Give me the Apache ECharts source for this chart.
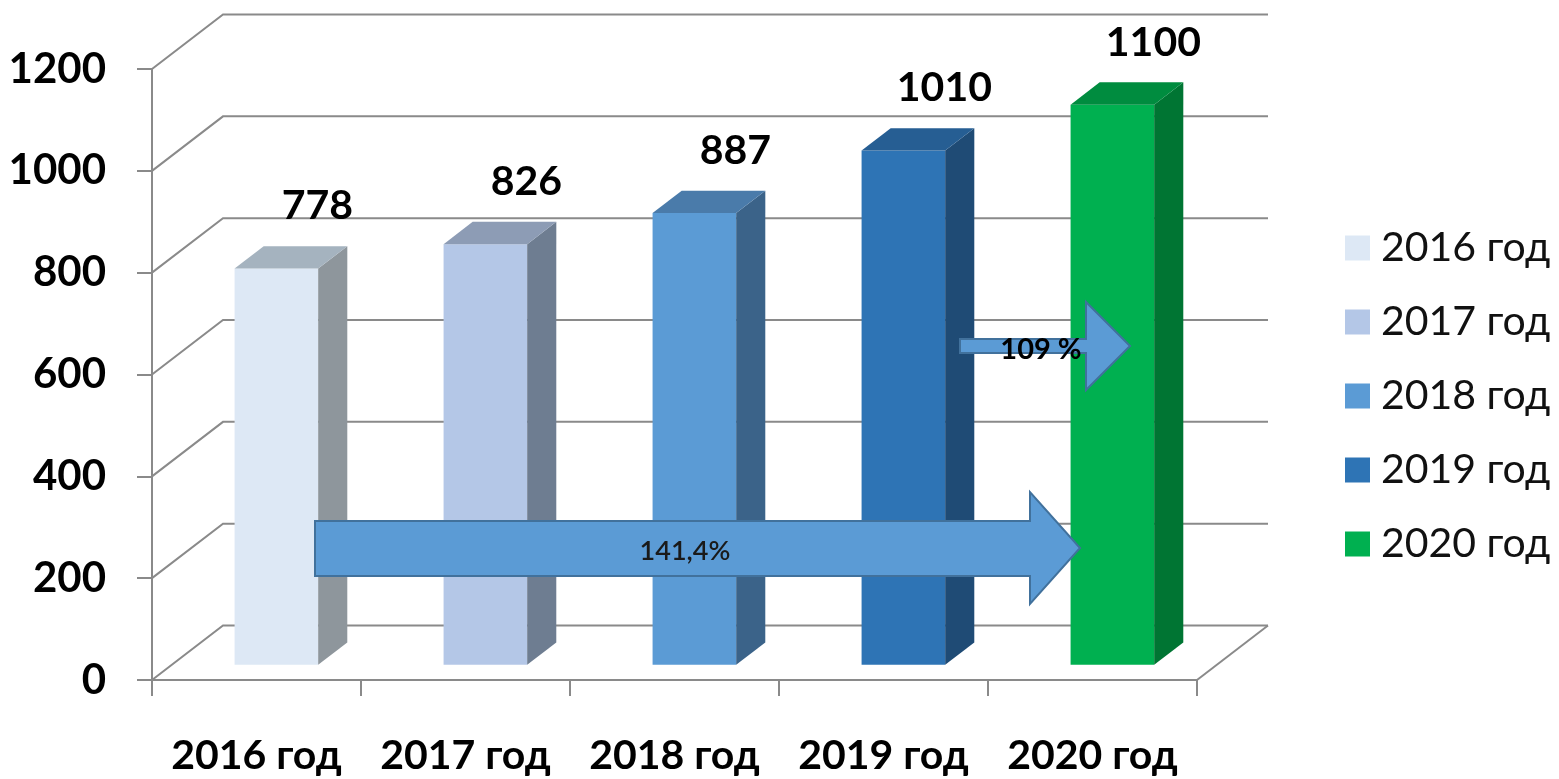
<!DOCTYPE html>
<html>
<head>
<meta charset="utf-8">
<title>2016-2020</title>
<script src="https://cdn.jsdelivr.net/npm/echarts@6/dist/echarts.min.js"></script>
<style>
    html, body { margin: 0; padding: 0; background: #fff; }
    #main { width: 1559px; height: 779px; }
</style>
</head>
<body>
<div id="main"></div>
<script>
// данные
var categories = ['2016 год', '2017 год', '2018 год', '2019 год', '2020 год'];
var values = [778, 826, 887, 1010, 1100];
var yTicks = [0, 200, 400, 600, 800, 1000, 1200];
var growthLabels = ['141,4%', '109 %'];

// цвета граней: фронт / бок / верх
var frontColors = ['#dde8f5', '#b4c7e7', '#5b9bd5', '#2e74b5', '#00b050'];
var sideColors = ['#8e969c', '#6e7d91', '#3b6389', '#1f4b75', '#007533'];
var topColors = ['#a5b3bf', '#8d9cb5', '#4a7baa', '#265e93', '#008c3f'];

var FONT = 'Lato, "Open Sans", sans-serif';
var DEPTH_X = 71, DEPTH_Y = 54.5;     // глубина "коробки"
var BAR_FRONT = 0.28, BAR_BACK = 0.69; // положение столбика в глубину
var BAR_WIDTH = 0.4;
var GRID_COLOR = '#8a8a8a';

(function () {
    var chartDom = document.getElementById('main');
    var myChart = echarts.init(chartDom);
    var option;

    // задняя стенка и пол
    function renderWall(params, api) {
        var cs = params.coordSys;
        var v = api.value(1);
        var y = api.coord([0, v])[1];
        var x0 = cs.x, x1 = cs.x + cs.width;
        var lineStyle = { stroke: GRID_COLOR, lineWidth: 2, fill: null };
        var children = [{
            type: 'polyline',
            shape: { points: [[x0, y], [x0 + DEPTH_X, y - DEPTH_Y], [x1 + DEPTH_X, y - DEPTH_Y]] },
            style: lineStyle
        }];
        if (v === 0) {
            children.push({
                type: 'line',
                shape: { x1: x1, y1: y, x2: x1 + DEPTH_X, y2: y - DEPTH_Y },
                style: lineStyle
            });
        }
        return { type: 'group', children: children };
    }

    // объёмный столбик
    function renderBar(params, api) {
        var idx = api.value(0);
        var val = api.value(1);
        var base = api.coord([idx, 0]);
        var top = api.coord([idx, val]);
        var half = api.size([1, 0])[0] * BAR_WIDTH / 2;
        var ox = BAR_FRONT * DEPTH_X, oy = BAR_FRONT * DEPTH_Y;
        var dx = (BAR_BACK - BAR_FRONT) * DEPTH_X, dy = (BAR_BACK - BAR_FRONT) * DEPTH_Y;
        var xl = base[0] - half + ox, xr = base[0] + half + ox;
        var yt = top[1] - oy, yb = base[1] - oy;
        return {
            type: 'group',
            children: [
                {
                    type: 'rect',
                    shape: { x: xl, y: yt, width: xr - xl, height: yb - yt },
                    style: { fill: frontColors[idx] }
                },
                {
                    type: 'polygon',
                    shape: { points: [[xr, yt], [xr + dx, yt - dy], [xr + dx, yb - dy], [xr, yb]] },
                    style: { fill: sideColors[idx] }
                },
                {
                    type: 'polygon',
                    shape: { points: [[xl, yt], [xl + dx, yt - dy], [xr + dx, yt - dy], [xr, yt]] },
                    style: { fill: topColors[idx] }
                },
                {
                    type: 'text',
                    x: base[0] + ox + 41,
                    y: yt - dy - 40,
                    style: {
                        text: String(val),
                        fontFamily: FONT,
                        fontSize: 41,
                        fontWeight: 'bold',
                        fill: '#000',
                        align: 'center',
                        verticalAlign: 'middle'
                    }
                }
            ]
        };
    }

    var series = [{
        name: 'wall',
        type: 'custom',
        renderItem: renderWall,
        clip: false,
        silent: true,
        z: 1,
        data: yTicks.map(function (v) { return [0, v]; })
    }];
    categories.forEach(function (name, i) {
        series.push({
            name: name,
            type: 'custom',
            renderItem: renderBar,
            clip: false,
            z: 2,
            itemStyle: { color: frontColors[i] },
            data: [[i, values[i]]]
        });
    });

    function arrow(points, z) {
        return {
            type: 'polygon',
            z: z,
            shape: { points: points },
            style: { fill: '#5b9bd5', stroke: '#41719c', lineWidth: 2 }
        };
    }

    option = {
        animation: false,
        grid: {
            left: 152,
            right: 362,
            top: 69,
            bottom: 99
        },
        legend: {
            data: categories,
            orient: 'vertical',
            left: 1340,
            top: 219,
            icon: 'rect',
            itemWidth: 25,
            itemHeight: 25,
            itemGap: 26,
            selectedMode: false,
            textStyle: {
                fontFamily: FONT,
                fontSize: 41,
                color: '#111',
                lineHeight: 48,
                padding: [0, 0, 0, 6]
            }
        },
        xAxis: {
            type: 'category',
            data: categories,
            boundaryGap: true,
            axisLine: { lineStyle: { color: GRID_COLOR, width: 2 } },
            axisTick: { show: true, interval: 0, length: 16, lineStyle: { color: GRID_COLOR, width: 2 } },
            axisLabel: {
                interval: 0,
                fontFamily: FONT,
                fontSize: 41,
                fontWeight: 'bold',
                color: '#000',
                margin: 55
            },
            splitLine: { show: false }
        },
        yAxis: {
            type: 'value',
            min: 0,
            max: 1200,
            interval: 200,
            axisLine: { show: true, lineStyle: { color: GRID_COLOR, width: 2 } },
            axisTick: { show: true, length: 15, lineStyle: { color: GRID_COLOR, width: 2 } },
            axisLabel: {
                formatter: function (v) { return String(v); },
                fontFamily: FONT,
                fontSize: 42,
                fontWeight: 'bold',
                color: '#000',
                margin: 46
            },
            splitLine: { show: false }
        },
        graphic: [
            arrow([[315, 521], [1030, 521], [1030, 492], [1080, 548], [1030, 604], [1030, 576], [315, 576]], 100),
            {
                type: 'text',
                z: 101,
                x: 685,
                y: 551,
                style: {
                    text: growthLabels[0],
                    fontFamily: FONT,
                    fontSize: 27,
                    fontWeight: 600,
                    fill: '#1a1a1a',
                    align: 'center',
                    verticalAlign: 'middle'
                }
            },
            arrow([[960, 339], [1086, 339], [1086, 302], [1130, 346], [1086, 390], [1086, 353], [960, 353]], 100),
            {
                type: 'text',
                z: 101,
                x: 1041,
                y: 350,
                style: {
                    text: growthLabels[1],
                    fontFamily: FONT,
                    fontSize: 29,
                    fontWeight: 'bold',
                    fill: '#000',
                    align: 'center',
                    verticalAlign: 'middle'
                }
            }
        ],
        series: series
    };

    myChart.setOption(option);
    window.addEventListener('resize', function () {
        myChart.resize();
    });
})();
</script>
</body>
</html>
